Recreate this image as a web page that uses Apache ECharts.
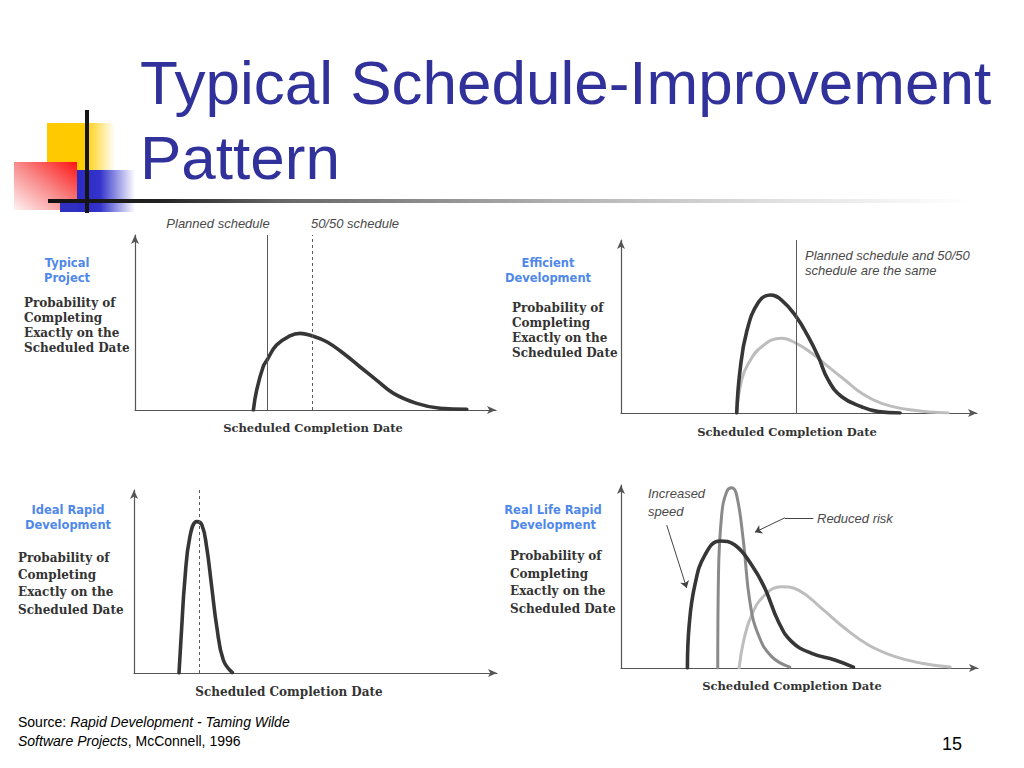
<!DOCTYPE html>
<html>
<head>
<meta charset="utf-8">
<script src="https://cdn.jsdelivr.net/npm/echarts@6/dist/echarts.min.js"></script>
<style>
html,body{margin:0;padding:0;background:#ffffff;}
#chart{width:1024px;height:768px;}
</style>
</head>
<body>
<div id="chart"></div>
<script>
// ---------- data (x: share of the time axis 0-100, y: relative probability 0-100) ----------
const typicalCurve = [[32.8,0],[33.7,11.4],[35.5,24.7],[36.6,28.6],[39.2,37.1],[42.9,42.3],[45.7,43.8],[49.1,42.3],[53.1,39.0],[57.7,32.4],[62.3,24.7],[66.9,17.1],[71.6,9.5],[78.0,3.8],[84.5,1.0],[91.9,0.4]];
const typicalPlannedX = [36.6];
const typicalFiftyX = [49.1];

const efficientCurve = [[32.5,0],[33.4,24],[35.3,47],[38.6,64],[41.9,68.2],[45.1,65.3],[49.2,55.7],[52.6,44.1],[55.4,32.6],[58.2,19.1],[62.0,9.4],[67.6,3.6],[72.3,0.8],[78.4,0]];
const efficientBaseCurve = [[32.5,0],[33.9,19.1],[35.8,28.7],[39.5,38.3],[45.1,43.2],[49.2,40.3],[53.6,34.5],[58.2,26.8],[62.9,19.1],[67.6,11.4],[73.2,5.6],[81.7,1.7],[91.9,0]];
const efficientSameX = [49.2];

const idealCurve = [[12.4,0],[13.1,23.5],[14.0,50.8],[15.4,74.5],[17.3,82.7],[18.7,80.9],[20.0,69.0],[21.4,47.2],[22.8,25.3],[24.6,7.1],[27.1,0.2]];
const idealFiftyX = [17.9];

const realSpeedCurve = [[18.6,0],[19.1,23.5],[20.7,45.4],[23.5,61.7],[27.7,69.4],[31.9,67.2],[36.6,56.3],[40.3,43.6],[44.1,25.3],[47.8,14.4],[53.4,8.0],[59.9,4.4],[65.1,0.5]];
const realIdealCurve = [[27.1,0],[27.3,50.8],[28.2,83.6],[29.6,96.3],[31.0,98.5],[32.4,94.5],[34.3,69.0],[36.1,36.2],[38.5,18.0],[42.2,6.2],[47.3,0.5]];
const realTypicalCurve = [[33.1,0],[34.3,14.4],[36.6,29.0],[40.3,39.9],[45.0,44.4],[49.7,42.6],[56.2,32.6],[62.7,21.7],[69.3,12.6],[76.8,6.2],[84.2,2.6],[92.2,0.5]];
const speedArrow = [[12.8,78.1],[18.4,43.7]];
const riskArrow = [[53.9,82.1],[45.9,82.1],[37.5,74.2]];

// ---------- texts ----------
const titleLines = ['Typical Schedule-Improvement','Pattern'];
const panelNames = [['Typical','Project'],['Efficient','Development'],['Ideal Rapid','Development'],['Real Life Rapid','Development']];
const yAxisLabel = ['Probability of','Completing','Exactly on the','Scheduled Date'];
const xAxisLabel = 'Scheduled Completion Date';
const typicalNotes = ['Planned schedule','50/50 schedule'];
const efficientNote = ['Planned schedule and 50/50','schedule are the same'];
const speedNote = ['Increased','speed'];
const riskNote = 'Reduced risk';
const pageNumber = '15';

// ---------- layout ----------
const grids = [
  {left:135, top:235, width:361, height:175},
  {left:621, top:240, width:356, height:173},
  {left:134, top:490, width:363, height:183},
  {left:621, top:485, width:357, height:183}
];
const DARK = '#363636', MID = '#8a8a8a', LIGHT = '#bdbdbd', AXIS = '#555555';

function axis(i){
  return {
    gridIndex:i, type:'value', min:0, max:100,
    axisLine:{show:true, onZero:false, symbol:['none','arrow'], symbolSize:[6,9], lineStyle:{color:AXIS, width:1.2}},
    axisTick:{show:false}, axisLabel:{show:false}, splitLine:{show:false}
  };
}
function curve(i, data, color, width, z){
  return {type:'line', xAxisIndex:i, yAxisIndex:i, data:data, symbol:'none', smooth:0.45,
    lineStyle:{color:color, width:width, cap:'round'}, z:z||3, silent:true};
}
function vlines(xs, type){
  return xs.map(v => ({xAxis:v, lineStyle:{type:type, color:'#5a5a5a', width:1}}));
}
function markLineOf(items){
  return {silent:true, symbol:'none', label:{show:false}, animation:false, data:items};
}

function txt(x, y, text, font, fill, align){
  return {type:'text', x:x, y:y, silent:true, z:10,
    style:{text:text, font:font, fill:fill, align:align||'left', verticalAlign:'middle',
           textAlign:align||'left', textVerticalAlign:'middle'}};
}
function lines(x, y0, dy, arr, font, fill, align){
  return arr.map((t,k) => txt(x, y0 + k*dy, t, font, fill, align));
}

const BLUE_FONT = 'bold 11.5px "DejaVu Sans"';
const BLUE = '#5088ea';
const SERIF = 'bold 11.5px "DejaVu Serif"';
const SERIF_Y = 'bold 12px "DejaVu Serif"';
const SERIF13 = 'bold 12px "DejaVu Serif"';
const SERIF_C = '#333333';
const ITAL = 'italic 13px "Liberation Sans"';
const ITAL_C = '#4a4a4a';

const s1 = curve(0, typicalCurve, DARK, 3.6);
s1.markLine = markLineOf(vlines(typicalPlannedX,'solid').concat(vlines(typicalFiftyX,[3,3])));

const s2a = curve(1, efficientBaseCurve, LIGHT, 3, 2);
const s2b = curve(1, efficientCurve, DARK, 3.6, 3);
s2b.markLine = markLineOf(vlines(efficientSameX,'solid'));

const s3 = curve(2, idealCurve, DARK, 3.6);
s3.markLine = markLineOf(vlines(idealFiftyX,[3,3]));

const s4a = curve(3, realTypicalCurve, LIGHT, 3, 2);
const s4b = curve(3, realIdealCurve, MID, 3, 3);
const s4c = curve(3, realSpeedCurve, DARK, 3.6, 4);
const annStyle = {color:'#444', width:1, type:'solid'};
s4c.markLine = {silent:true, label:{show:false}, symbolSize:7, data:[
  [{coord:speedArrow[0], symbol:'none', lineStyle:Object.assign({curveness:-0.15}, annStyle)}, {coord:speedArrow[1], symbol:'arrow'}],
  [{coord:riskArrow[0], symbol:'none', lineStyle:annStyle}, {coord:riskArrow[1], symbol:'none'}],
  [{coord:riskArrow[1], symbol:'none', lineStyle:annStyle}, {coord:riskArrow[2], symbol:'arrow'}]
]};

// ---------- decorative slide elements ----------
function lg(x,y,x2,y2,stops){
  return {type:'linear', x:x, y:y, x2:x2, y2:y2, colorStops:stops.map(s=>({offset:s[0], color:s[1]}))};
}
const deco = [
  {type:'rect', z:1, silent:true, shape:{x:47,y:123,width:68,height:47},
   style:{fill:lg(0,0,1,0,[[0,'#ffc800'],[0.55,'#ffcc00'],[1,'#ffffff']])}},
  {type:'rect', z:2, silent:true, shape:{x:77,y:170,width:58,height:42},
   style:{fill:lg(0,0,1,0,[[0,'#2a2ac4'],[0.4,'#3434cc'],[1,'#ffffff']])}},
  {type:'rect', z:3, silent:true, shape:{x:14,y:162,width:63,height:48},
   style:{fill:lg(1,0,0,1,[[0,'#ff1414'],[0.5,'#f88a8a'],[1,'#fff2f2']])}},
  {type:'rect', z:3, silent:true, shape:{x:60,y:203,width:17,height:9}, style:{fill:'#3030c0'}},
  {type:'rect', z:4, silent:true, shape:{x:48,y:199,width:922,height:4},
   style:{fill:lg(0,0,1,0,[[0,'#111111'],[0.12,'#222222'],[0.25,'#666666'],[0.55,'#b0b0b0'],[0.8,'#e2e2e2'],[1,'#ffffff']])}},
  {type:'rect', z:5, silent:true, shape:{x:85,y:110,width:4,height:103}, style:{fill:'#151515'}}
];

const TITLE_FONT = '62px "Liberation Sans"';
const TITLE_C = '#30319a';
let texts = [];
texts.push(txt(140, 82.5, titleLines[0], TITLE_FONT, TITLE_C));
texts.push(txt(140, 157, titleLines[1], TITLE_FONT, TITLE_C));

// panel 1
texts = texts.concat(lines(67, 263, 15, panelNames[0], BLUE_FONT, BLUE, 'center'));
texts = texts.concat(lines(24, 303, 15, yAxisLabel, SERIF_Y, SERIF_C));
texts.push(txt(313, 428, xAxisLabel, SERIF, SERIF_C, 'center'));
texts.push(txt(218, 223, typicalNotes[0], ITAL, ITAL_C, 'center'));
texts.push(txt(355, 223, typicalNotes[1], ITAL, ITAL_C, 'center'));
// panel 2
texts = texts.concat(lines(548, 263, 15, panelNames[1], BLUE_FONT, BLUE, 'center'));
texts = texts.concat(lines(512, 308, 15, yAxisLabel, SERIF_Y, SERIF_C));
texts.push(txt(787, 432, xAxisLabel, SERIF, SERIF_C, 'center'));
texts = texts.concat(lines(805, 255, 15, efficientNote, ITAL, ITAL_C));
// panel 3
texts = texts.concat(lines(68, 510, 15, panelNames[2], BLUE_FONT, BLUE, 'center'));
texts = texts.concat(lines(18, 558, 17.2, yAxisLabel, SERIF13, SERIF_C));
texts.push(txt(289, 692, xAxisLabel, SERIF13, SERIF_C, 'center'));
// panel 4
texts = texts.concat(lines(553, 510, 15, panelNames[3], BLUE_FONT, BLUE, 'center'));
texts = texts.concat(lines(510, 556, 17.5, yAxisLabel, SERIF13, SERIF_C));
texts.push(txt(792, 686, xAxisLabel, SERIF, SERIF_C, 'center'));
texts = texts.concat(lines(648, 493, 18.5, speedNote, ITAL, ITAL_C));
texts.push(txt(817, 518, riskNote, ITAL, ITAL_C));

// source & page number
texts.push({type:'text', x:18, y:722, silent:true, z:10, style:{
  text:'{n|Source: }{i|Rapid Development - Taming Wilde}', verticalAlign:'middle', textVerticalAlign:'middle',
  rich:{n:{font:'14px "Liberation Sans"', fill:'#000'}, i:{font:'italic 14px "Liberation Sans"', fill:'#000'}}}});
texts.push({type:'text', x:18, y:741, silent:true, z:10, style:{
  text:'{i|Software Projects}{n|, McConnell, 1996}', verticalAlign:'middle', textVerticalAlign:'middle',
  rich:{n:{font:'14px "Liberation Sans"', fill:'#000'}, i:{font:'italic 14px "Liberation Sans"', fill:'#000'}}}});
texts.push(txt(952, 744, pageNumber, '18px "Liberation Sans"', '#000', 'center'));

const chart = echarts.init(document.getElementById('chart'), null, {renderer:'svg', width:1024, height:768});
chart.setOption({
  backgroundColor:'#ffffff',
  animation:false,
  grid:grids,
  xAxis:[0,1,2,3].map(axis),
  yAxis:[0,1,2,3].map(axis),
  series:[s1, s2a, s2b, s3, s4a, s4b, s4c],
  graphic:deco.concat(texts)
});
</script>
</body>
</html>
